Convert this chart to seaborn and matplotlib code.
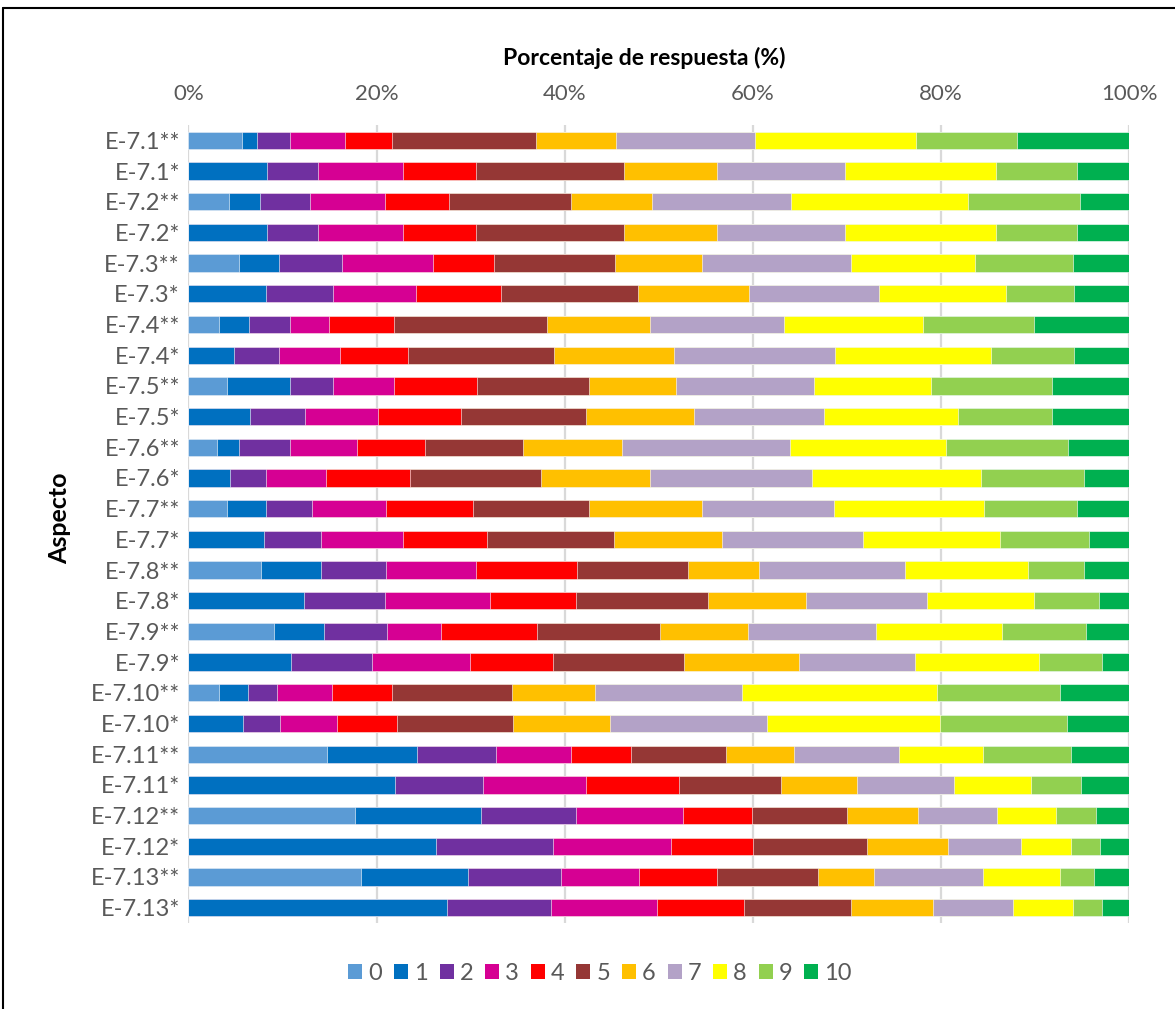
import numpy as np
import pandas as pd
import matplotlib
matplotlib.use("Agg")
import matplotlib.pyplot as plt
from matplotlib.patches import Patch
from matplotlib.lines import Line2D
import seaborn as sns

# Row labels (top to bottom)
aspects = ["E-7.1**", "E-7.1*", "E-7.2**", "E-7.2*", "E-7.3**", "E-7.3*",
           "E-7.4**", "E-7.4*", "E-7.5**", "E-7.5*", "E-7.6**", "E-7.6*",
           "E-7.7**", "E-7.7*", "E-7.8**", "E-7.8*", "E-7.9**", "E-7.9*",
           "E-7.10**", "E-7.10*", "E-7.11**", "E-7.11*", "E-7.12**", "E-7.12*",
           "E-7.13**", "E-7.13*"]

# Response share (%) per score, one value per aspect
score_0 = [5.7, 0, 4.3, 0, 5.4, 0, 3.3, 0, 4.1, 0, 3.1, 0, 4.1, 0, 7.7, 0, 9.1, 0, 3.3, 0, 14.8, 0, 17.7, 0, 18.3, 0]
score_1 = [1.6, 8.4, 3.3, 8.4, 4.25, 8.3, 3.1, 4.9, 6.7, 6.6, 2.3, 4.4, 4.2, 8.1, 6.45, 12.3, 5.3, 10.9, 3.0, 5.8, 9.5, 22.0, 13.5, 26.35, 11.4, 27.5]
score_2 = [3.5, 5.4, 5.3, 5.4, 6.7, 7.05, 4.4, 4.8, 4.6, 5.8, 5.4, 3.8, 4.8, 6.05, 6.9, 8.6, 6.7, 8.6, 3.1, 3.9, 8.5, 9.35, 10.1, 12.4, 9.9, 11.0]
score_3 = [5.8, 9.0, 8.0, 9.0, 9.7, 8.8, 4.1, 6.4, 6.5, 7.8, 7.1, 6.4, 7.9, 8.7, 9.5, 11.2, 5.8, 10.45, 5.85, 6.1, 7.9, 11.0, 11.3, 12.5, 8.3, 11.3]
score_4 = [5.0, 7.7, 6.8, 7.7, 6.5, 9.1, 6.9, 7.3, 8.8, 8.75, 7.3, 8.9, 9.3, 8.9, 10.8, 9.1, 10.2, 8.8, 6.4, 6.4, 6.4, 9.85, 7.4, 8.8, 8.2, 9.2]
score_5 = [15.3, 15.8, 13.0, 15.8, 12.8, 14.5, 16.3, 15.5, 11.9, 13.3, 10.4, 13.9, 12.3, 13.5, 11.7, 14.0, 13.1, 13.9, 12.8, 12.3, 10.1, 10.9, 10.1, 12.05, 10.8, 11.4]
score_6 = [8.55, 9.8, 8.6, 9.8, 9.3, 11.8, 10.9, 12.8, 9.25, 11.5, 10.5, 11.65, 12.0, 11.5, 7.55, 10.4, 9.3, 12.3, 8.75, 10.3, 7.25, 8.0, 7.6, 8.6, 5.9, 8.7]
score_7 = [14.7, 13.6, 14.7, 13.6, 15.8, 13.8, 14.2, 17.1, 14.6, 13.8, 17.9, 17.2, 14.1, 15.0, 15.6, 12.9, 13.6, 12.25, 15.65, 16.7, 11.2, 10.3, 8.4, 7.8, 11.6, 8.5]
score_8 = [17.1, 16.0, 18.9, 16.0, 13.2, 13.5, 14.8, 16.6, 12.4, 14.2, 16.6, 17.9, 15.9, 14.6, 13.0, 11.4, 13.45, 13.2, 20.8, 18.4, 8.9, 8.2, 6.3, 5.3, 8.1, 6.35]
score_9 = [10.8, 8.7, 11.9, 8.7, 10.4, 7.2, 11.8, 8.8, 12.9, 10.0, 12.9, 10.95, 9.85, 9.4, 6.0, 6.9, 8.9, 6.7, 13.0, 13.5, 9.4, 5.4, 4.25, 3.05, 3.7, 3.1]
score_10 = [11.9, 5.5, 5.2, 5.5, 6.0, 5.9, 10.1, 5.9, 8.2, 8.2, 6.55, 4.8, 5.6, 4.3, 4.8, 3.2, 4.6, 2.9, 7.4, 6.6, 6.2, 5.1, 3.5, 3.15, 3.7, 2.9]

scores = ["0", "1", "2", "3", "4", "5", "6", "7", "8", "9", "10"]
colors = ["#5B9BD5", "#0070C0", "#7030A0", "#D60093", "#FF0000", "#953735",
          "#FFC000", "#B3A2C7", "#FFFF00", "#92D050", "#00B050"]

# Build table and normalise each row to 100% (like a 100% stacked bar chart)
df = pd.DataFrame({"0": score_0, "1": score_1, "2": score_2, "3": score_3, "4": score_4,
                   "5": score_5, "6": score_6, "7": score_7, "8": score_8, "9": score_9,
                   "10": score_10}, index=aspects)
df = df.div(df.sum(axis=1), axis=0) * 100
cum = df.cumsum(axis=1)
cum["Aspecto"] = aspects

sns.set_style("white")
plt.rcParams["font.family"] = ["Lato", "DejaVu Sans"]

fig = plt.figure(figsize=(11.75, 10.09), dpi=100)
ax = fig.add_axes([188.3 / 1175, 1 - 923 / 1009, 941 / 1175, 798 / 1009])

# Draw cumulative bars from the last score to the first so each covers the next
for score, color in reversed(list(zip(scores, colors))):
    sns.barplot(data=cum, x=score, y="Aspecto", orient="h", color=color, saturation=1,
                width=0.565, edgecolor="white", linewidth=0.4, ax=ax, zorder=3)

ax.set_xlim(0, 100)
ax.set_ylim(len(aspects) - 0.5, -0.5)
ax.set_xticks([0, 20, 40, 60, 80, 100])
ax.set_xticklabels(["0%", "20%", "40%", "60%", "80%", "100%"])
ax.xaxis.tick_top()
ax.tick_params(axis="x", length=0, pad=15, labelsize=16, labelcolor="#595959")
ax.tick_params(axis="y", length=0, pad=6, labelsize=17, labelcolor="#595959")
ax.grid(axis="x", color="#D9D9D9", linewidth=1.6, zorder=0)
ax.set_axisbelow(True)
for s in ax.spines.values():
    s.set_visible(False)
ax.set_xlabel("")
ax.set_ylabel("")

fig.text(644 / 1175, 1 - 58 / 1009, "Porcentaje de respuesta (%)", ha="center",
         va="center", fontsize=16.5, fontweight="bold", color="black")
fig.text(60 / 1175, 1 - 518 / 1009, "Aspecto", ha="center", va="center",
         rotation=90, fontsize=18, fontweight="bold", color="black")

handles = [Patch(facecolor=c, edgecolor="none", label=s) for s, c in zip(scores, colors)]
fig.legend(handles=handles, loc="center", bbox_to_anchor=(600 / 1175, 1 - 973 / 1009),
           ncol=11, frameon=False, fontsize=17, labelcolor="#595959",
           handlelength=0.6, handleheight=0.6, handletextpad=0.25, columnspacing=0.5)

# outer border of the chart area
fig.add_artist(Line2D([3 / 1175, 3 / 1175], [0, 1 - 8 / 1009], color="black", lw=1.5))
fig.add_artist(Line2D([3 / 1175, 1], [1 - 8 / 1009, 1 - 8 / 1009], color="black", lw=1.5))

fig.savefig("out.png", dpi=100)
